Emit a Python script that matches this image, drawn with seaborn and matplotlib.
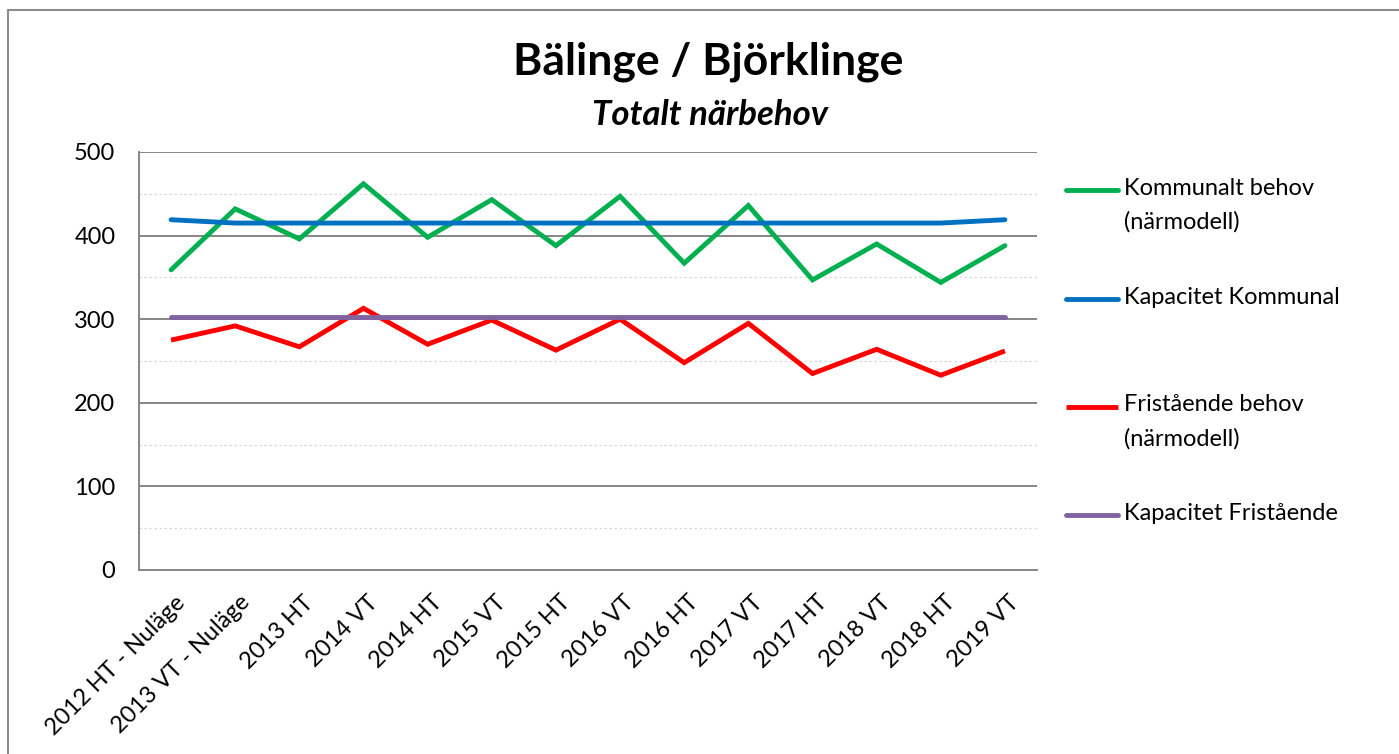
import numpy as np
import pandas as pd
import matplotlib
matplotlib.use("Agg")
import matplotlib.pyplot as plt
from matplotlib.legend_handler import HandlerLine2D
from matplotlib.patches import Rectangle
from matplotlib.lines import Line2D
from matplotlib.transforms import ScaledTranslation
import seaborn as sns

# Data
terminer = ["2012 HT - Nuläge", "2013 VT - Nuläge", "2013 HT", "2014 VT", "2014 HT",
            "2015 VT", "2015 HT", "2016 VT", "2016 HT", "2017 VT", "2017 HT",
            "2018 VT", "2018 HT", "2019 VT"]
kommunalt_behov = [359, 432, 396, 462, 398, 443, 388, 447, 367, 436, 347, 390, 344, 388]
kapacitet_kommunal = [419, 415, 415, 415, 415, 415, 415, 415, 415, 415, 415, 415, 415, 419]
fristaende_behov = [275, 292, 267, 313, 270, 299, 263, 300, 248, 295, 235, 264, 233, 262]
kapacitet_fristaende = [303, 303, 303, 303, 303, 303, 303, 303, 303, 303, 303, 303, 303, 303]

serier = ["Kommunalt behov\n(närmodell)", "Kapacitet Kommunal\n ",
          "Fristående behov\n(närmodell)", "Kapacitet Fristående\n "]
farger = ["#00B050", "#0070C0", "#FF0000", "#8064A2"]

df = pd.DataFrame({
    "Termin": terminer * 4,
    "Antal": kommunalt_behov + kapacitet_kommunal + fristaende_behov + kapacitet_fristaende,
    "Serie": np.repeat(serier, len(terminer)),
})

sns.set_style("white")
plt.rcParams['font.family'] = ['Lato', 'DejaVu Sans']
plt.rcParams['text.color'] = 'black'
plt.rcParams['xtick.labelcolor'] = 'black'
plt.rcParams['ytick.labelcolor'] = 'black'

W, H = 1399, 754
fig = plt.figure(figsize=(W / 100, H / 100), dpi=100)
ax = fig.add_axes([139 / W, 1 - 570 / H, 898 / W, 418 / H])

LW = 3.5
sns.lineplot(data=df, x="Termin", y="Antal", hue="Serie", hue_order=serier,
             palette=dict(zip(serier, farger)), linewidth=LW, sort=False,
             ax=ax, legend=False)
for ln, f in zip(ax.lines, farger):
    cap = "butt" if f == "#FF0000" else "round"
    ln.set_solid_capstyle(cap)
    ln.set_solid_joinstyle("miter")
    ln.set_zorder(3)

# axes styling, Excel look
grey = "#868686"
ax.set_xlim(-0.5, len(terminer) - 0.5)
ax.set_ylim(0, 500)
ax.set_xlabel("")
ax.set_ylabel("")
ax.set_yticks(range(0, 501, 100))
ax.set_yticks(range(50, 500, 100), minor=True)
ax.set_xticks(range(len(terminer)))
ax.set_xticks(np.arange(-0.5, len(terminer), 1.0), minor=True)
ax.yaxis.grid(True, which="major", color=grey, lw=1.4, zorder=1)
ax.yaxis.grid(True, which="minor", color="#d9d9d9", lw=0.9, ls=(0, (2, 2)), zorder=1)
ax.xaxis.grid(False, which="both")
ax.set_axisbelow(True)
for s in ["top", "right"]:
    ax.spines[s].set_visible(False)
for s in ["left", "bottom"]:
    ax.spines[s].set_color(grey)
    ax.spines[s].set_linewidth(1.4)

ax.tick_params(axis="y", which="major", direction="out", length=7, width=1.4,
               color=grey, labelsize=17, pad=10)
ax.tick_params(axis="y", which="minor", direction="in", length=4, width=1.2, color=grey)
ax.tick_params(axis="x", which="major", length=0, labelsize=17, pad=21)
ax.tick_params(axis="x", which="minor", direction="out", length=6, width=1.4, color=grey)
ax.set_xticklabels(terminer, rotation=45, ha="right", va="center", rotation_mode="anchor")
for lab in ax.get_xticklabels():
    lab.set_transform(lab.get_transform() + ScaledTranslation(0.11, 0, fig.dpi_scale_trans))


# legend handle aligned with the first text line (as in Excel)
class FirstLineHandler(HandlerLine2D):
    def __init__(self, shift, **kw):
        super().__init__(**kw)
        self.shift = shift

    def create_artists(self, legend, orig_handle, xdescent, ydescent, width, height,
                       fontsize, trans):
        arts = super().create_artists(legend, orig_handle, xdescent, ydescent, width,
                                      height, fontsize, trans)
        for a in arts:
            a.set_ydata(np.asarray(a.get_ydata()) + self.shift)
        return arts


handles = [Line2D([], [], color=f, lw=LW,
                  solid_capstyle="butt" if f == "#FF0000" else "round") for f in farger]
leg = ax.legend(handles, serier, loc="upper left",
                bbox_to_anchor=(1066 / W, 1 - 178 / H), bbox_transform=fig.transFigure,
                frameon=False, fontsize=17, handlelength=2.2, handletextpad=0.25,
                labelspacing=2.28, borderpad=0, borderaxespad=0,
                handler_map={h: FirstLineHandler(11.0) for h in handles})
for t in leg.get_texts():
    t.set_linespacing(1.7)

# titles
fig.text(708 / W, 1 - 62 / H, "Bälinge / Björklinge", ha="center", va="center",
         fontsize=32, fontweight="bold")
fig.text(710 / W, 1 - 115 / H, "Totalt närbehov", ha="center", va="center",
         fontsize=25, fontweight="bold", fontstyle="italic")

# chart border
fig.add_artist(Rectangle((8 / W, -0.1), 2, 1 - 10 / H + 0.1, transform=fig.transFigure,
                         fill=False, edgecolor="#8c8c8c", lw=1.5))

fig.savefig("out.png", dpi=100)
